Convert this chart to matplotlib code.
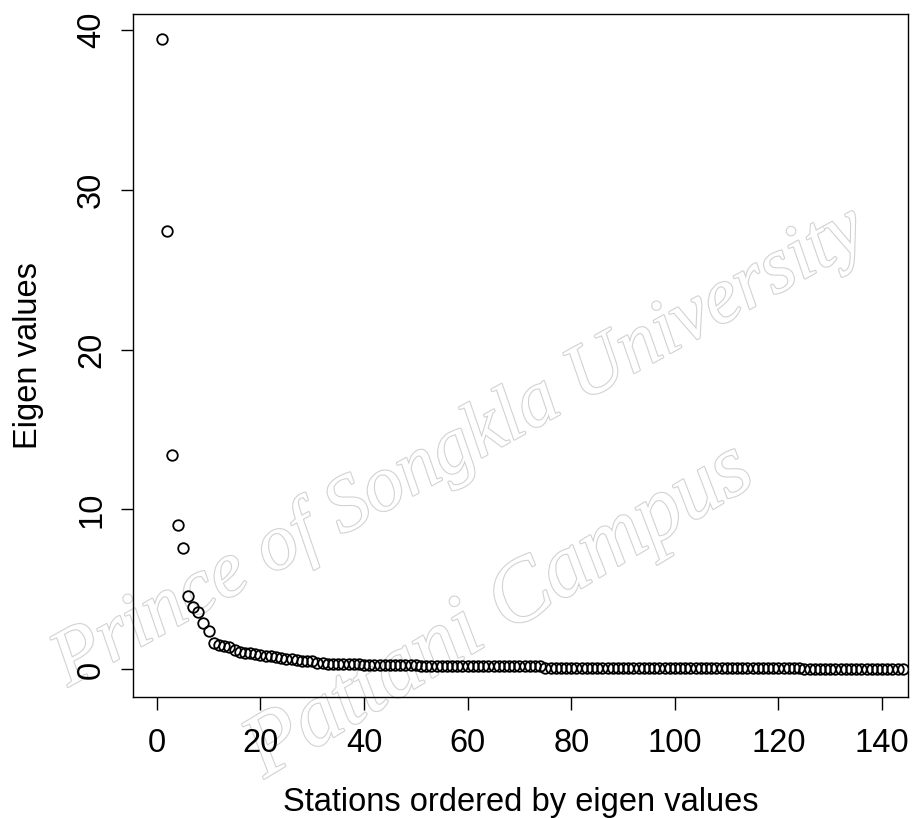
import numpy as np
import matplotlib
matplotlib.use("Agg")
import matplotlib.pyplot as plt
import matplotlib.patheffects as pe

# eigen values, ordered from largest
eig_top = [39.4, 27.4, 13.4, 9.0, 7.6, 4.6, 3.9, 3.6, 2.9, 2.4]
eig_knee = [1.65, 1.50, 1.45, 1.40, 1.22, 1.08, 1.02, 1.00, 0.95, 0.92,
            0.87, 0.82, 0.77, 0.73, 0.68, 0.64, 0.60, 0.56, 0.53, 0.50]
eig_mid = [0.40, 0.38, 0.37, 0.36, 0.35, 0.33, 0.33, 0.32, 0.32, 0.31,
           0.31, 0.30, 0.30, 0.30, 0.29, 0.29, 0.28]
eig_low = [0.25, 0.25, 0.25, 0.24, 0.24, 0.24, 0.24, 0.24, 0.24, 0.24,
           0.23, 0.23, 0.23, 0.23, 0.23, 0.23, 0.23, 0.23, 0.23, 0.22,
           0.22, 0.22, 0.22, 0.22, 0.22, 0.22, 0.22]
eig_tail = [0.08, 0.08, 0.08, 0.08, 0.08, 0.08, 0.08, 0.08, 0.08, 0.08,
            0.08, 0.08, 0.08, 0.08, 0.08, 0.08, 0.08, 0.08, 0.08, 0.08,
            0.07, 0.07, 0.07, 0.07, 0.07, 0.07, 0.07, 0.07, 0.07, 0.07,
            0.07, 0.07, 0.07, 0.07, 0.07, 0.07, 0.07, 0.07, 0.07, 0.07,
            0.07, 0.07, 0.07, 0.07, 0.07, 0.07, 0.07, 0.07, 0.07, 0.07,
            0.06, 0.06, 0.06, 0.06, 0.06, 0.06, 0.06, 0.06, 0.06, 0.06,
            0.06, 0.06, 0.06, 0.06, 0.06, 0.06, 0.06, 0.06]
eig_end = [0.02, 0.01]

eigen = np.array(eig_top + eig_knee + eig_mid + eig_low + eig_tail + eig_end)
station = np.arange(1, len(eigen) + 1)

xticks = [0, 20, 40, 60, 80, 100, 120, 140]
yticks = [0, 10, 20, 30, 40]

plt.rcParams['font.family'] = ['Liberation Sans', 'DejaVu Sans']
fs = 23.5

fig = plt.figure(figsize=(9.2, 8.18), dpi=100)
ax = fig.add_axes([133/920, 1-697/818, 775/920, 683/818])

ax.plot(station, eigen, 'o', ms=7.6, mfc='none', mec='black', mew=1.3, zorder=3)

ax.set_xlim(-4.6, 145.0)
ax.set_ylim(-1.72, 40.97)
ax.set_xticks(xticks)
ax.set_yticks(yticks)
ax.tick_params(direction='out', length=9, width=1.0, labelsize=fs, pad=13.5)
ax.tick_params(axis='y', pad=9.7)
for lab in ax.get_yticklabels():
    lab.set_rotation(90)
    lab.set_va('center')

for s in ax.spines.values():
    s.set_linewidth(1.0)

ax.set_xlabel('Stations ordered by eigen values', fontsize=fs)
ax.set_ylabel('Eigen values', fontsize=fs)
ax.xaxis.set_label_coords(0.5, -0.1318)
ax.yaxis.set_label_coords(-0.1154, 0.5)

# faint outlined watermark behind the plot
wm = dict(transform=fig.transFigure, ha='center', va='center',
          style='italic', family='Liberation Serif', color='white',
          clip_on=False, zorder=0.5,
          path_effects=[pe.withStroke(linewidth=1.6, foreground='#d2d2d2')])
ax.text(460/920, 1-448/818, 'Prince of Songkla University',
        rotation=29, fontsize=57, **wm)
ax.text(500/920, 1-612/818, 'Pattani Campus', rotation=31, fontsize=64, **wm)

fig.savefig('out.png', dpi=100)
